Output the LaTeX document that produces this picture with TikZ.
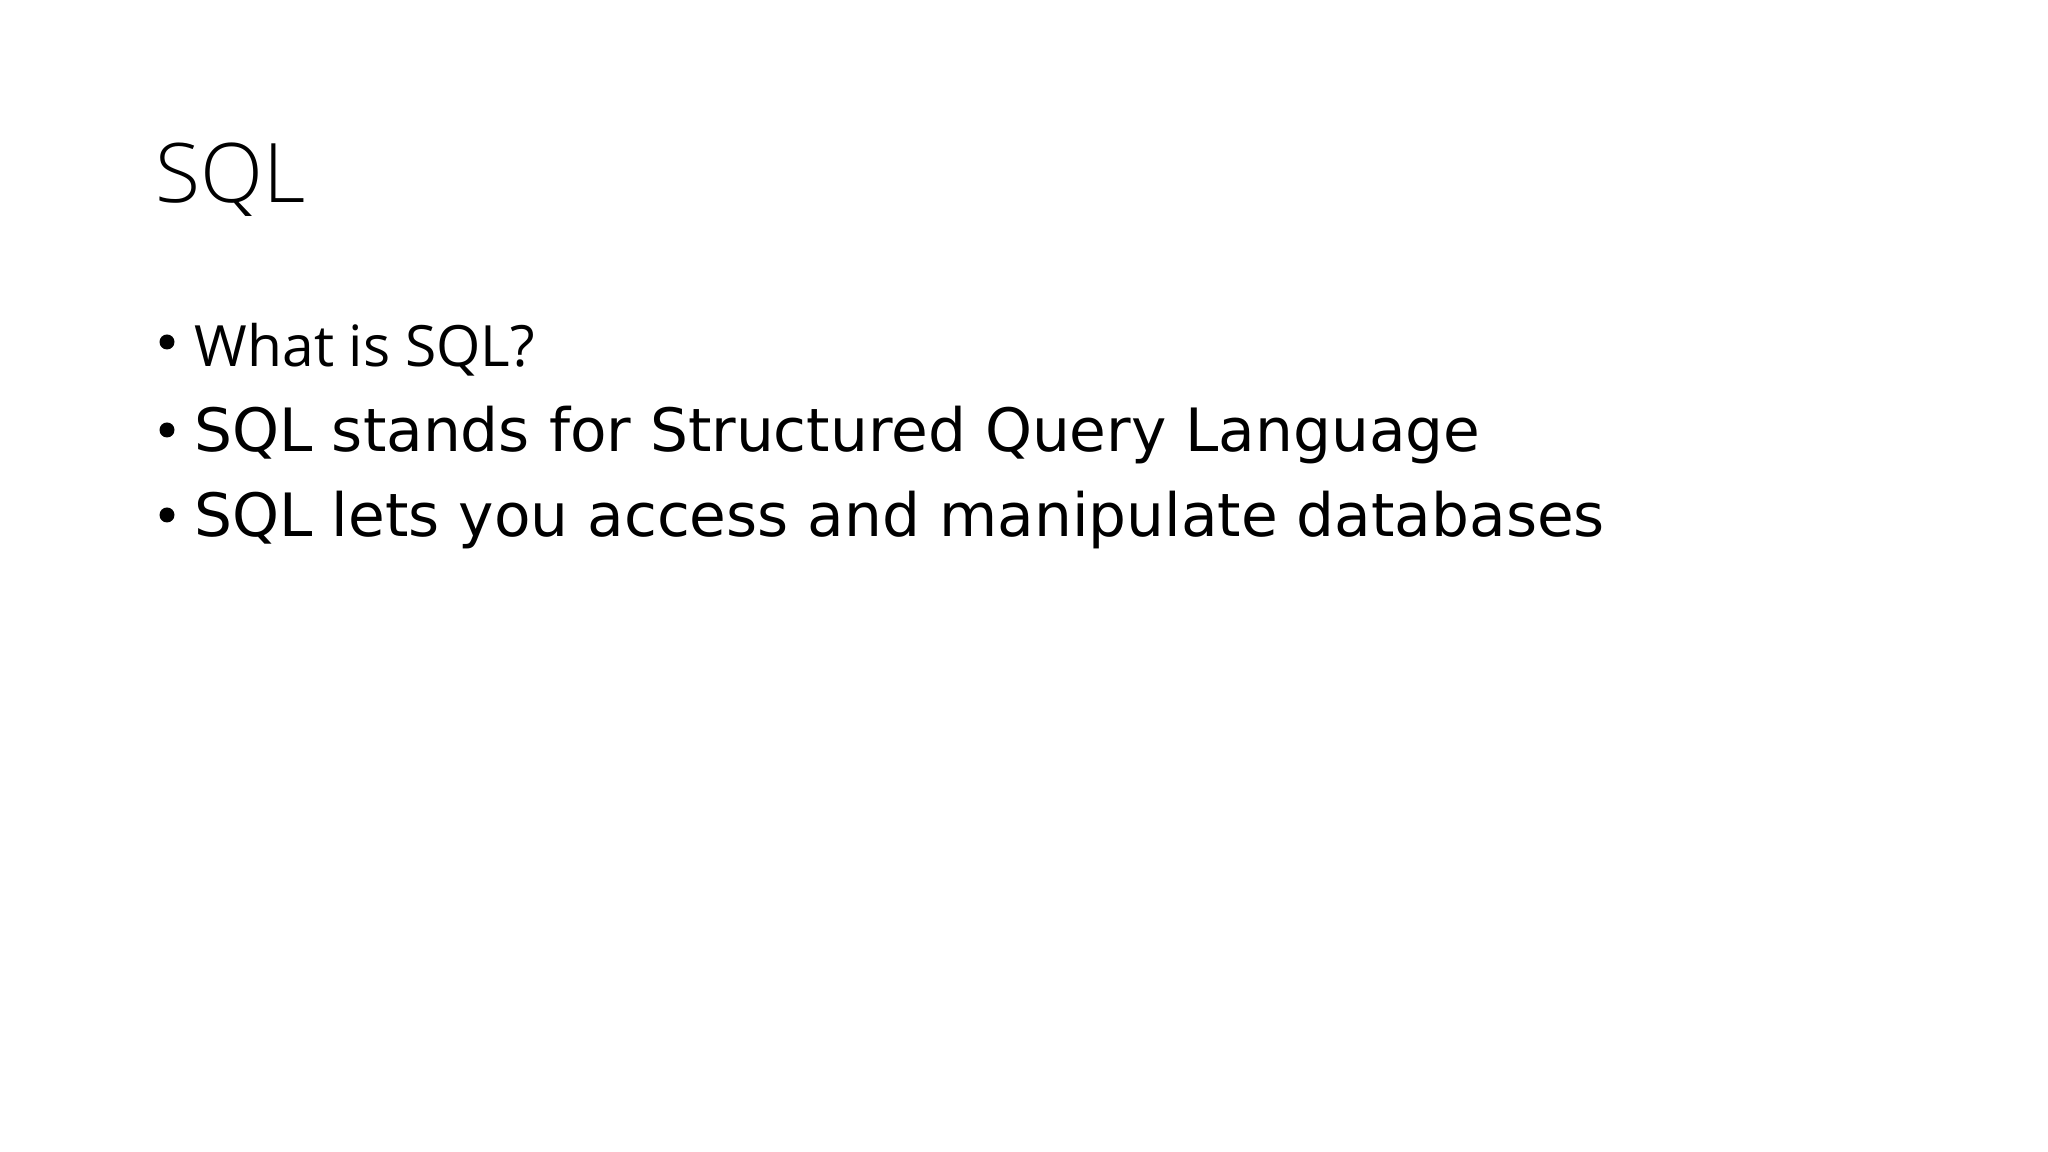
\documentclass[tikz,border=0pt]{standalone}
\usepackage{fontspec}
\usetikzlibrary{positioning}
\newfontfamily\titlefont{Open Sans Light}
\newfontfamily\firstfont{Open Sans}
\newfontfamily\itemfont{DejaVu Sans}
\tikzstyle{heading} = [inner sep=0pt, anchor=base west, font=\titlefont\fontsize{23.4}{28}\selectfont]
\tikzstyle{question} = [inner sep=0pt, anchor=base west, font=\firstfont\fontsize{16.2}{20}\selectfont]
\tikzstyle{point} = [inner sep=0pt, anchor=base west, font=\itemfont\fontsize{17}{20}\selectfont]
\tikzstyle{dot} = [circle, fill=black, inner sep=0pt, minimum size=0.15cm]

\begin{document}
\begin{tikzpicture}
        \useasboundingbox [fill=white] (0,0) rectangle (20.48,11.52);
        \node (title) [heading] at (1.55,9.49) {SQL};
        \node (l1) [question] at (1.94,7.85) {What is SQL?};
        \node (l2) [point, below=0.85cm of l1.base west, anchor=base west] {SQL stands for Structured Query Language};
        \node (l3) [point, below=0.85cm of l2.base west, anchor=base west] {SQL lets you access and manipulate databases};
        \node (b1) [dot, above left=0.25cm and 0.27cm of l1.base west, anchor=center] {};
        \node (b2) [dot, above left=0.22cm and 0.27cm of l2.base west, anchor=center] {};
        \node (b3) [dot, above left=0.22cm and 0.27cm of l3.base west, anchor=center] {};
    \end{tikzpicture}
\end{document}
